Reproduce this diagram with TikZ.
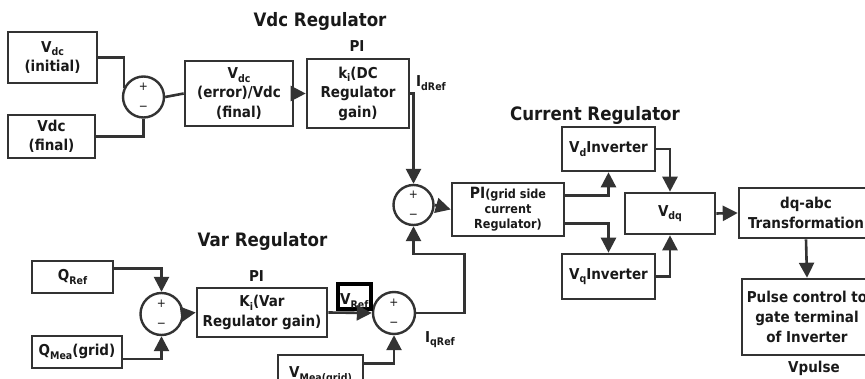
\documentclass[tikz,border=0pt]{standalone}
\usepackage{fontspec}
\setmainfont{DejaVu Sans Condensed}
\usetikzlibrary{arrows.meta,calc}
\definecolor{ink}{HTML}{333333}
\newcommand\lowtxt[1]{\raisebox{-0.45ex}{\fontsize{10.5}{11}\selectfont #1}}
\begin{document}
\begin{tikzpicture}[x=1pt,y=-1pt,
  box/.style={draw=ink, line width=2.6pt, inner sep=0pt, align=center,
    font=\bfseries\fontsize{15}{19.5}\selectfont, text=black!90},
  sumj/.style={circle, draw=ink, line width=2.4pt, inner sep=0pt, minimum size=41pt,
    align=center, font=\fontsize{12}{20}\selectfont, text=black!90},
  arr/.style={-{Triangle[length=15pt,width=15pt]}},
  wire/.style={draw=ink, line width=2.6pt},
  title/.style={font=\bfseries\fontsize{18.5}{20}\selectfont, inner sep=0pt, text=black!90},
  lbl/.style={font=\bfseries\fontsize{15}{17}\selectfont, inner sep=0pt, text=black!90},
]
\useasboundingbox (0,0) rectangle (865,379);
\clip (0,0) rectangle (865,379);

% ---------- Vdc regulator ----------
\node[title, anchor=base] (tvdc) at (320,26.5) {Vdc Regulator};
\node[box, minimum width=89pt, minimum height=51pt] (vinit) at (52.5,57.5) {V\lowtxt{dc}\\(initial)};
\node[box, minimum width=87pt, minimum height=43pt] (vfin) at (51.5,136.5) {Vdc\\(final)};
\node[sumj] (s1) at (143.5,97) {+\\−};
\node[box, minimum width=108pt, minimum height=65pt] (err) at (239,93.5) {V\lowtxt{dc}\\(error)/Vdc\\(final)};
\node[box, minimum width=102pt, minimum height=69pt] (pidc) at (358,93.5) {k\lowtxt{i}(DC\\Regulator\\gain)};
\node[lbl, anchor=base] (pi1) at (357,51.5) {PI};
\node[lbl, anchor=base west] (idref) at (416,87) {I\lowtxt{dRef}};

\draw[wire] (vinit.east) -| (s1.155);
\draw[wire] (vfin.east) -| (s1.south);
\draw[wire] (s1.east) -- (err.west);
\draw[wire, arr] (err.east) -- (pidc.west);

% ---------- current regulator ----------
\node[title, anchor=base] (tcur) at (595,120.5) {Current Regulator};
\node[sumj, minimum size=40pt] (s2) at (413.5,205) {+\\−};
\node[box, minimum width=112pt, minimum height=53pt, font=\bfseries\fontsize{12.5}{15}\selectfont] (pig) at (508,209.5)
  {{\fontsize{15.5}{15}\selectfont PI}(grid side\\current\\Regulator)};
\node[box, minimum width=93pt, minimum height=44pt] (vd) at (608.5,149) {V\lowtxt{d}Inverter};
\node[box, minimum width=93pt, minimum height=45pt] (vq) at (608.5,276.5) {V\lowtxt{q}Inverter};
\node[box, minimum width=90pt, minimum height=41pt] (vdq) at (670,213.5) {V\lowtxt{dq}};
\node[box, minimum width=134pt, minimum height=50pt] (dqabc) at (806,213) {dq-abc\\Transformation};
\node[box, minimum width=130pt, minimum height=76pt, font=\bfseries\fontsize{15}{20}\selectfont] (pulse) at (807,317) {Pulse control to\\gate terminal\\of Inverter};
\node[lbl, anchor=base] (vpulse) at (814,372) {Vpulse};

\draw[wire, arr] (pidc.east) -| (s2.north);
\draw[wire, arr] (s2.east) -- (pig.west);
\draw[wire, arr] ($(pig.north east)!0.25!(pig.south east)$) -| (vd.south);
\draw[wire, arr] ($(pig.north east)!0.75!(pig.south east)$) -| (vq.north);
\draw[wire, arr] (vd.east) -| (vdq.north);
\draw[wire, arr] (vq.east) -| (vdq.south);
\draw[wire, arr] (vdq.east) -- (dqabc.west);
\draw[wire, arr] (dqabc.south) -- (pulse.north);

% ---------- Var regulator ----------
\node[title, anchor=base] (tvar) at (262.5,247) {Var Regulator};
\node[box, minimum width=81pt, minimum height=32pt] (qref) at (72.5,277) {Q\lowtxt{Ref}};
\node[box, minimum width=90pt, minimum height=32pt] (qmea) at (77,352) {Q\lowtxt{Mea}(grid)};
\node[sumj, minimum size=42pt] (s4) at (161.5,314) {+\\−};
\node[box, minimum width=130pt, minimum height=49pt] (ki) at (262,312.5) {K\lowtxt{i}(Var\\Regulator gain)};
\node[lbl, anchor=base] (pi2) at (256.5,281.5) {PI};
\node[sumj, minimum size=42pt] (s3) at (394,313) {+\\−};
\node[draw=black, line width=3.5pt, minimum width=33pt, minimum height=25pt, inner sep=0pt] (vref) at (354.5,296.5) {};
\node[lbl, anchor=base west] (vreft) at (340,305) {V\lowtxt{Ref}};
\node[lbl, anchor=base west] (iqref) at (425,342) {I\lowtxt{qRef}};
\node[box, minimum width=85pt, minimum height=40pt] (vmea) at (320.5,375) {V\lowtxt{Mea(grid)}};

\draw[wire, arr] ($(qref.north east)!0.25!(qref.south east)$) -| (s4.north);
\draw[wire, arr] ($(qmea.north east)!0.7!(qmea.south east)$) -| (s4.south);
\draw[wire, arr] (s4.east) -- (ki.west);
\draw[wire, arr] (ki.east) -- (s3.west);
\draw[wire, arr] ($(vmea.north east)+(0,10)$) -| (s3.south);
\draw[wire, arr] (s3.east) -| ($(s2.south)+(51,28)$) -| (s2.south);
\end{tikzpicture}
\end{document}
